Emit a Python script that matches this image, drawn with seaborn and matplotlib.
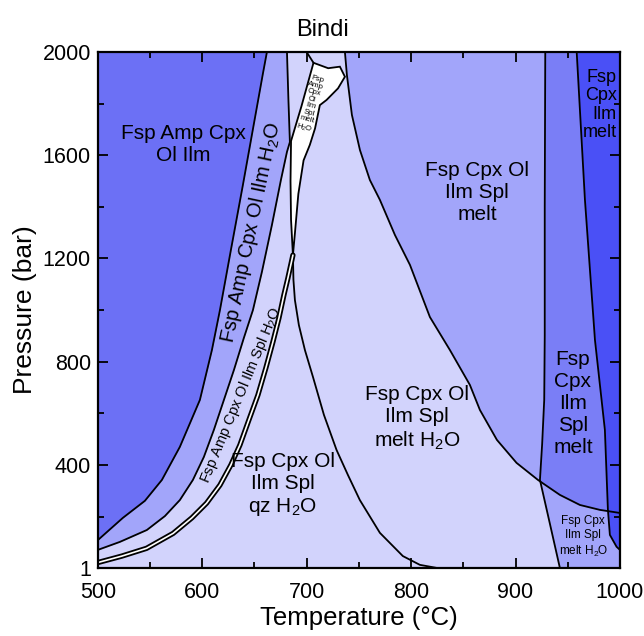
import numpy as np
import matplotlib
matplotlib.use("Agg")
import matplotlib.pyplot as plt
import seaborn as sns

# ---------------- data: phase boundaries (Temperature degC, Pressure bar) ----------------
# boundary Fsp Amp Cpx Ol Ilm | Fsp Amp Cpx Ol Ilm H2O
lineA_T = [500, 523.9, 545.0, 561.3, 578.5, 597.7, 609.2, 616.9, 627.4, 638.9, 650.4, 658.0, 661.9]
lineA_P = [109, 195, 261, 342, 470, 652, 845, 1000, 1233, 1485, 1744, 1915, 2000]
# boundary Fsp Amp Cpx Ol Ilm H2O | Fsp Amp Cpx Ol Ilm Spl H2O
lineB_T = [500, 521.1, 546.9, 564.2, 578.5, 591.0, 601.5, 611.1, 620.7, 630.3, 639.8,
           648.5, 657.1, 666.7, 675.3, 681.1, 683.9, 682.5, 681.1]
lineB_P = [71, 102, 148, 202, 264, 342, 431, 536, 652, 768, 892,
           1000, 1148, 1330, 1504, 1613, 1651, 1814, 2000]
# thin (double-line) field
dbl_T = [500, 523, 546.6, 572.1, 590.0, 604.1, 616.9, 627.4, 636.0, 644.6, 653.3,
         660.9, 667.6, 673.4, 678.2, 682.0, 685.8, 686.8]
dbl_P = [22, 47, 77, 135, 195, 252, 322, 400, 477, 574, 671,
         776, 876, 969, 1059, 1124, 1194, 1213]
# solidus (qz H2O | melt H2O)
sol_T = [686.8, 687.3, 688.7, 692.5, 698.3, 706.0, 716.5, 728.6, 739.5, 750.9, 770.1,
         792.1, 808.4, 824.7]
sol_P = [1213, 1117, 1039, 942, 845, 741, 594, 458, 361, 264, 137, 47, 13, 1]
sol_top_T = [699.9, 706.5]
sol_top_P = [2000, 1958]
# H2O-out (melt H2O | melt)
lineC_T = [736.6, 738.5, 743.3, 751.0, 760.5, 770.1, 784.5, 798.9, 818.0, 837.2, 856.3,
           865.9, 882.2, 901.0, 921.5, 942.5, 961.7, 980.8, 1000]
lineC_P = [2000, 1911, 1756, 1620, 1504, 1427, 1291, 1175, 973, 845, 710,
           613, 497, 408, 342, 284, 245, 226, 214]
# Ol-out
lineD_T = [942.5, 933, 923.4, 925.5, 927.5, 928, 928, 928.5]
lineD_P = [1, 171, 342, 480, 652, 900, 1400, 2000]
# Spl-out
lineE_T = [1000, 996.8, 990.4, 988.5, 985.6, 976.1, 966.5, 958.6]
lineE_P = [71, 83, 129, 226, 536, 884, 1427, 2000]
# narrow melt-bearing Amp field (white)
bandL_T = [706.5, 695, 685, 684.5, 685, 686.8]
bandL_P = [1958, 1790, 1655, 1500, 1350, 1213]
bandR_T = [686.8, 688.7, 692, 697, 703, 708, 712.6, 719, 730, 736.6, 731.8, 720.6]
bandR_P = [1213, 1297, 1450, 1580, 1640, 1704, 1794, 1814, 1859, 1904, 1943, 1937]

x_ticks = [500, 600, 700, 800, 900, 1000]
y_ticks = [1, 400, 800, 1200, 1600, 2000]
y_ticklabels = ["1", "400", "800", "1200", "1600", "2000"]

H2O = r"H$_{\mathrm{2}}$O"
labels = [
    ("Fsp Amp Cpx\nOl Ilm", 582, 1640, 15, 0, "center"),
    ("Fsp Amp Cpx Ol Ilm " + H2O, 647, 1300, 14.5, 78, "center"),
    ("Fsp Amp Cpx Ol Ilm Spl " + H2O, 637, 672, 10.5, 67.5, "center"),
    ("Fsp Cpx Ol\nIlm Spl\nqz " + H2O, 677, 323, 15, 0, "center"),
    ("Fsp Cpx Ol\nIlm Spl\nmelt " + H2O, 806, 580, 15, 0, "center"),
    ("Fsp Cpx Ol\nIlm Spl\nmelt", 863, 1454, 15, 0, "center"),
    ("Fsp\nCpx\nIlm\nSpl\nmelt", 955, 640, 15, 0, "center"),
    ("Fsp Cpx\nIlm Spl\nmelt " + H2O, 965, 121, 8.5, 0, "center"),
]

# ---------------- colours ----------------
c_light = "#D2D3FC"
c_med = "#A2A5FA"
c_dark = "#6C70F5"
c_splmelt = "#7A7EF6"
c_darkest = "#4A50F6"

sns.set_style("ticks")
plt.rcParams['font.family'] = ['Liberation Sans', 'DejaVu Sans']
plt.rcParams['mathtext.fontset'] = 'custom'
plt.rcParams['mathtext.rm'] = 'Liberation Sans'
plt.rcParams['mathtext.it'] = 'Liberation Sans:italic'
plt.rcParams['mathtext.bf'] = 'Liberation Sans:bold'
plt.rcParams['text.color'] = 'black'
plt.rcParams['axes.labelcolor'] = 'black'

fig = plt.figure(figsize=(6.44, 6.36), dpi=100)
ax = fig.add_axes([0.152, 0.107, 0.8106, 0.8113])
ax.set_xlim(500, 1000)
ax.set_ylim(1, 2000)
ax.set_facecolor(c_light)

# fields
ax.fill_betweenx(lineB_P, 500, lineB_T, color=c_med, lw=0, zorder=1)
ax.fill_betweenx(lineA_P, 500, lineA_T, color=c_dark, lw=0, zorder=1)
ax.fill_betweenx(lineC_P, lineC_T, 1000, color=c_med, lw=0, zorder=1)
ax.fill_betweenx(lineD_P, lineD_T, 1000, color=c_splmelt, lw=0, zorder=1)
Pg = np.linspace(1, 2000, 4001)
Cinv = np.interp(Pg, lineC_P[::-1], lineC_T[::-1], left=1000)
Dg = np.interp(Pg, lineD_P, lineD_T)
valid = Pg >= min(lineC_P)
idx = np.where(valid & (Cinv - Dg <= 0))[0][0]
low = Pg <= Pg[idx]
ax.fill_betweenx(Pg[low], Dg[low], Cinv[low], color=c_med, lw=0, zorder=1)
ax.fill_betweenx(lineE_P, lineE_T, 1000, color=c_darkest, lw=0, zorder=1)

# white band field
ax.fill(np.r_[bandL_T, bandR_T], np.r_[bandL_P, bandR_P], facecolor="white",
        edgecolor="black", lw=1.3, zorder=3)

lw = 1.3
for xs, ys in [(lineA_T, lineA_P), (lineB_T, lineB_P), (sol_T, sol_P),
               (sol_top_T, sol_top_P), (lineC_T, lineC_P), (lineD_T, lineD_P),
               (lineE_T, lineE_P)]:
    sns.lineplot(x=xs, y=ys, sort=False, estimator=None, color="black", lw=lw,
                 ax=ax, zorder=4)
sns.lineplot(x=dbl_T, y=dbl_P, sort=False, estimator=None, color="black", lw=3.8,
             ax=ax, zorder=4)
sns.lineplot(x=dbl_T, y=dbl_P, sort=False, estimator=None, color="white", lw=1.2,
             ax=ax, zorder=5)

for txt, x, y, fs, rot, ha in labels:
    ax.text(x, y, txt, ha=ha, va="center", fontsize=fs, rotation=rot,
            rotation_mode="anchor", linespacing=1.2, zorder=6)
ax.text(997, 1795, "Fsp\nCpx\nIlm\nmelt", ha="right", va="center", fontsize=13,
        linespacing=1.1, zorder=6)
ax.text(704, 1798, "Fsp\nAmp\nCpx\nOl\nIlm\nSpl\nmelt\n" + H2O, ha="center", va="center",
        fontsize=5.6, rotation=-15, rotation_mode="anchor", linespacing=1.0, zorder=6)

ax.set_xticks(x_ticks)
ax.set_xticks(np.array(x_ticks[:-1]) + 50, minor=True)
ax.set_yticks(y_ticks)
ax.set_yticklabels(y_ticklabels)
ax.set_yticks([200, 600, 1000, 1400, 1800], minor=True)
ax.set_axisbelow(False)
ax.tick_params(which="both", direction="in", top=True, right=True, width=1.3,
               colors="black", labelsize=15.5)
ax.tick_params(axis="x", which="both", pad=10)
ax.tick_params(axis="y", which="both", pad=5)
ax.tick_params(which="major", length=7)
ax.tick_params(which="minor", length=4)
for s in ax.spines.values():
    s.set_linewidth(1.6)
    s.set_color("black")
    s.set_zorder(10)

ax.set_xlabel("Temperature (°C)", fontsize=18.5, labelpad=2)
ax.set_ylabel("Pressure (bar)", fontsize=19, labelpad=4)
fig.text(0.5, 1 - 30 / 636, "Bindi", ha="center", va="center", fontsize=17)

fig.savefig("out.png", dpi=100)
